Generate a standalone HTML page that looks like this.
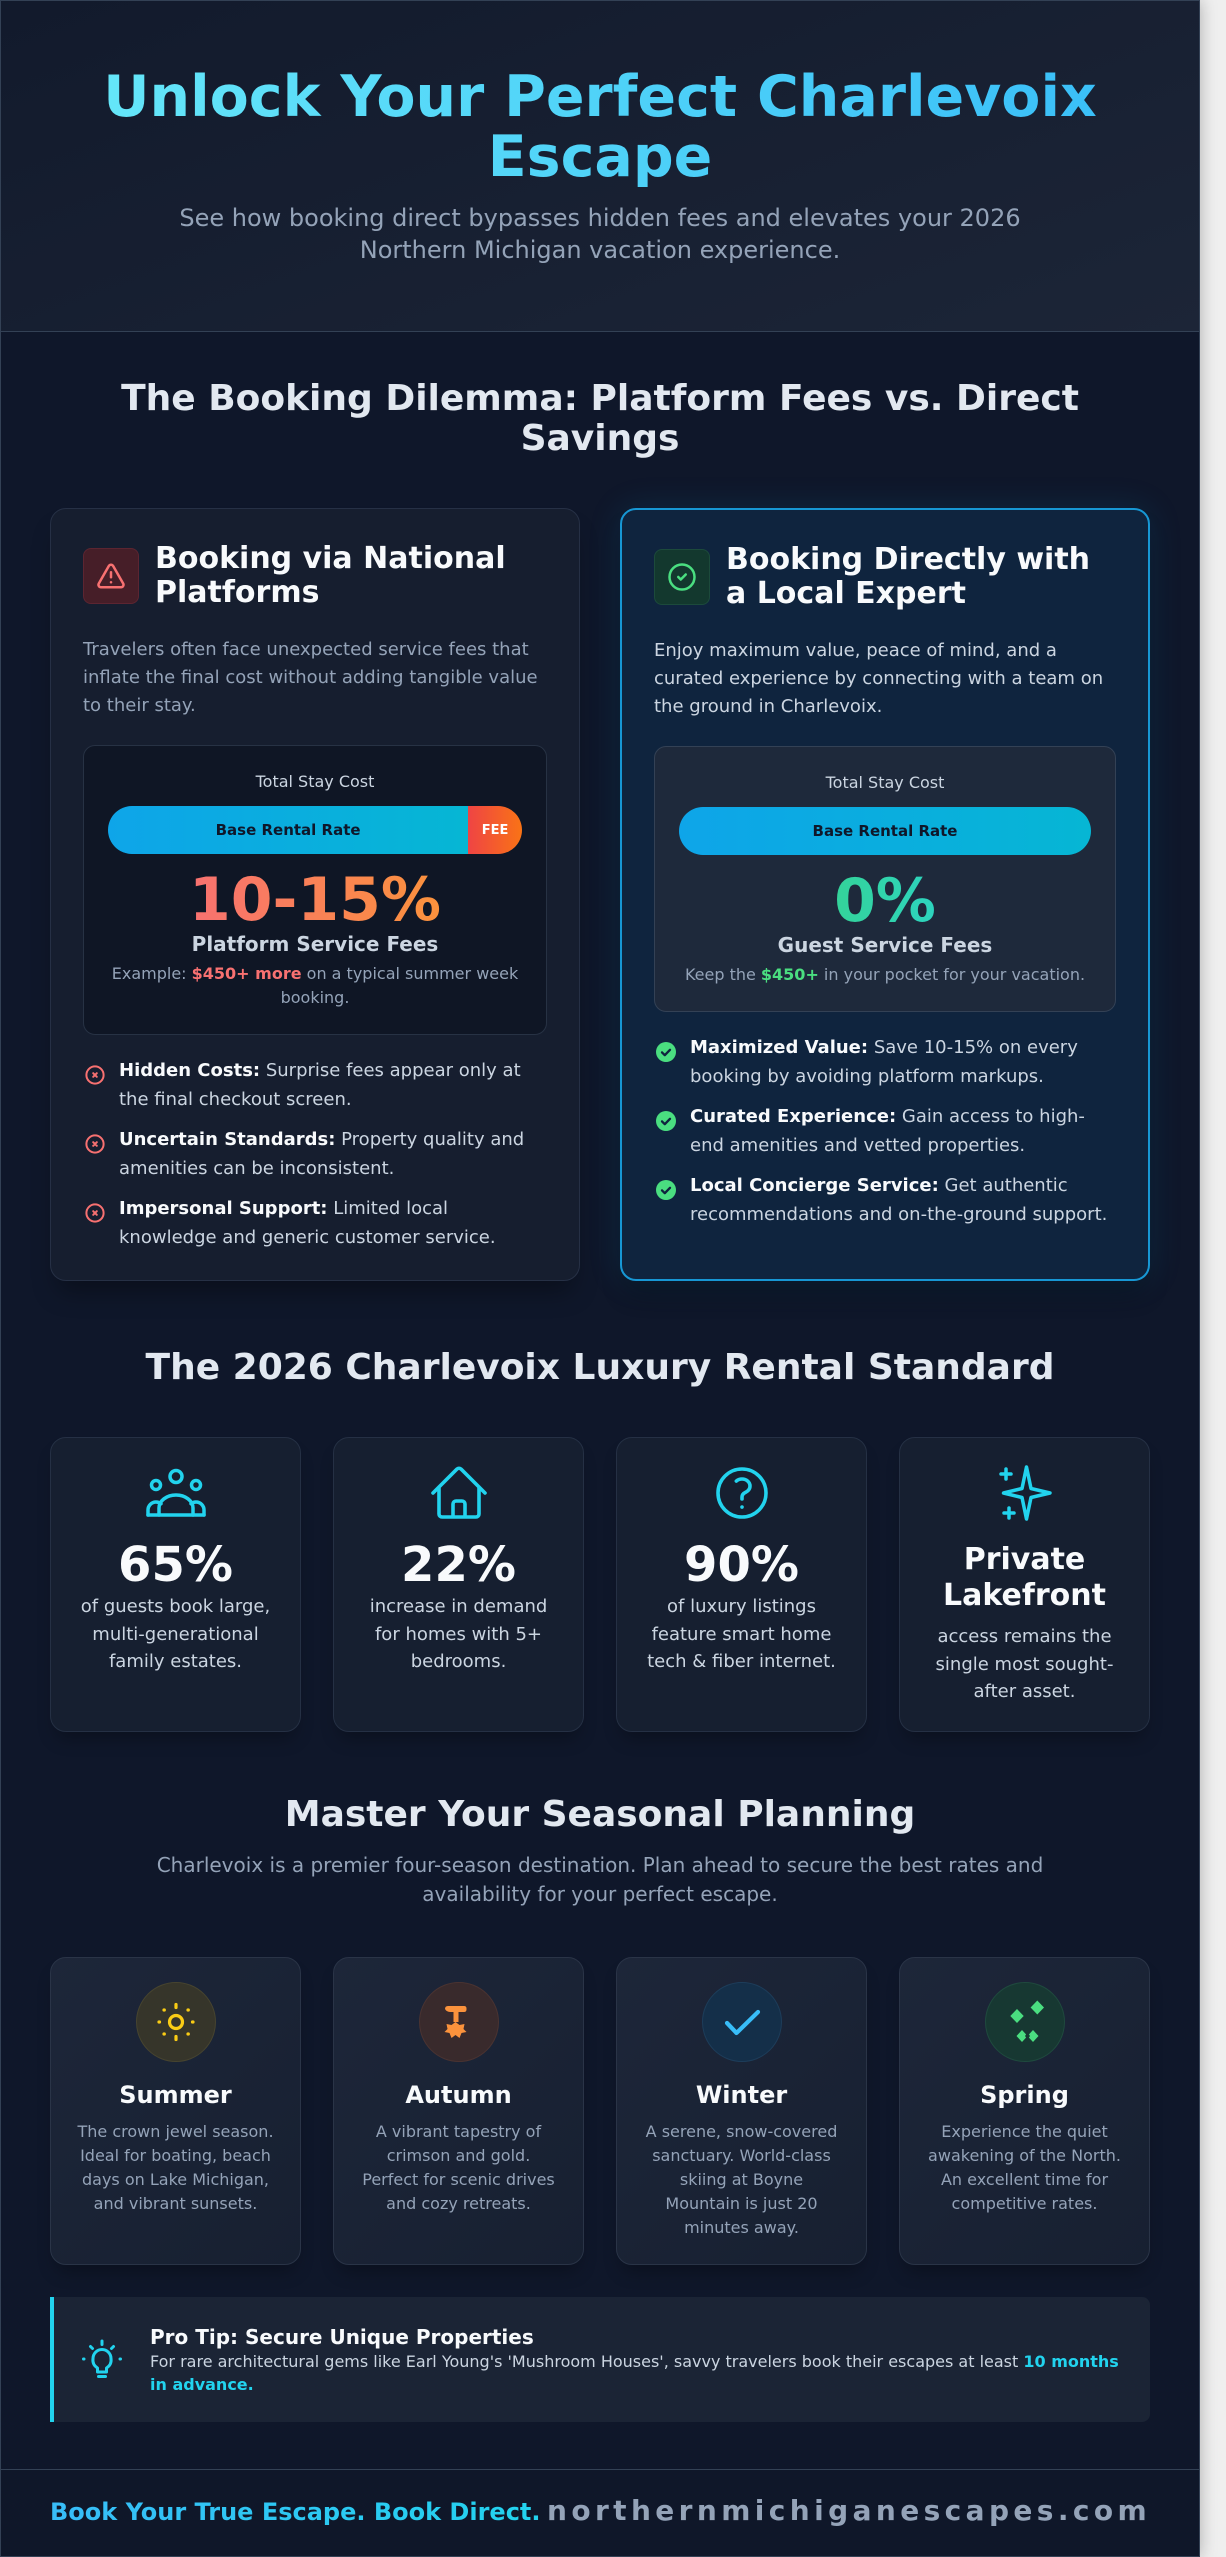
<!DOCTYPE html>
<html><head><meta charset="utf-8">
<style>
*{margin:0;padding:0;box-sizing:border-box}
html,body{width:1226px;height:2557px;overflow:hidden}
body{background:#efefef;font-family:"DejaVu Sans","Liberation Sans",sans-serif;position:relative}
#page{position:absolute;left:0;top:0;width:1200px;height:2557px;background:#0f172a;box-shadow:0 0 16px rgba(0,0,0,0.28)}
#frame{position:absolute;left:0;top:0;width:1200px;height:2557px;border:1px solid #334155;pointer-events:none;z-index:50}
.a{position:absolute}
.h2{position:absolute;left:50px;width:1100px;text-align:center;font-size:36px;line-height:40px;font-weight:bold;color:#e2e8f0}
.title{font-size:57px;line-height:60px;font-weight:bold;text-align:center;background:linear-gradient(90deg,#67e8f9,#38bdf8);-webkit-background-clip:text;background-clip:text;color:transparent}
.card{position:absolute;top:508px;width:530px;height:773px;border-radius:16px;padding:33px 32px 32px}
.cl{left:50px;background:#161e2f;border:1px solid #263045;box-shadow:0 18px 25px -8px rgba(0,0,0,0.35)}
.cr{left:620px;background:#0f243e;border:2px solid #1797d4;padding-top:32px;box-shadow:0 0 34px rgba(14,165,233,0.13),0 18px 25px -8px rgba(0,0,0,0.35)}
.chead{display:flex;align-items:center;height:68px}
.ibox{width:56px;height:56px;flex:none;border-radius:8px;display:flex;align-items:center;justify-content:center;margin-right:16px}
.ctitle{font-size:30px;line-height:34px;font-weight:bold;color:#f8fafc}
.cdesc{margin-top:26px;font-size:18px;line-height:28px}
.cbox{margin-top:25px;border-radius:12px;padding:24px;text-align:center}
.tsc{font-size:16px;line-height:24px;color:#cbd5e1}
.bar{margin-top:12px;height:48px;border-radius:24px;display:flex;overflow:hidden}
.base{width:87%;background:linear-gradient(90deg,#0ea5e9,#06b6d4);font-size:15px;font-weight:bold;color:#0f172a;display:flex;align-items:center;justify-content:center}
.fee{flex:1;background:linear-gradient(90deg,#ef4444,#f97316);color:#fff;font-size:13px;font-weight:bold;display:flex;align-items:center;justify-content:center}
.big{margin-top:16px;font-size:60px;line-height:60px;font-weight:bold;-webkit-background-clip:text;background-clip:text;color:transparent;display:inline-block}
.sub{font-size:20px;line-height:28px;font-weight:bold;color:#cbd5e1}
.ex{margin-top:4px;font-size:16px;line-height:24px;color:#94a3b8}
.clist{margin-top:22px;list-style:none}
.clist li{display:flex;font-size:18px;line-height:28.5px;color:#cbd5e1;margin-bottom:12px}
.clist li svg{flex:none;margin:7.5px 14px 0 2px}
.clist b{color:#f8fafc}
.stat{position:absolute;top:1437px;width:251px;height:295px;background:#161f30;border:1px solid #253044;border-radius:16px;padding:23px 24px 24px;text-align:center;box-shadow:0 12px 18px -6px rgba(0,0,0,0.3)}
.stat svg{display:block;margin:0 auto}
.num{margin-top:16px;font-size:48px;line-height:48px;font-weight:bold;color:#f8fafc}
.sdesc{margin-top:4px;font-size:18px;line-height:27.5px;color:#cbd5e1}
.season{position:absolute;top:1957px;width:251px;height:308px;background:linear-gradient(135deg,#1d2639 0%,#172031 100%);border:1px solid #2a3447;border-radius:16px;padding:24px;text-align:center;box-shadow:0 12px 18px -6px rgba(0,0,0,0.3)}
.circ{width:80px;height:80px;border-radius:50%;margin:0 auto 16px;display:flex;align-items:center;justify-content:center}
.stitle{font-size:24px;line-height:34px;font-weight:bold;color:#f8fafc}
.sd{margin-top:7.5px;font-size:16px;line-height:24px;color:#94a3b8}
</style></head>
<body>
<div id="page">
  <!-- header -->
  <div class="a" style="left:0;top:0;width:1200px;height:331px;background:linear-gradient(160deg,#121a2c 0%,#1c2537 100%)"></div>
  <div class="a" style="left:0;top:331px;width:1200px;height:1px;background:#334155"></div>
  <div class="a title" style="left:50px;top:67px;width:1100px">Unlock Your Perfect Charlevoix Escape</div>
  <div class="a" style="left:152px;top:202px;width:896px;text-align:center;font-size:24px;line-height:32px;color:#94a3b8">See how booking direct bypasses hidden fees and elevates your 2026 Northern Michigan vacation experience.</div>

  <div class="h2" style="top:379px">The Booking Dilemma: Platform Fees vs. Direct Savings</div>

  <!-- left card -->
  <div class="card cl">
    <div class="chead">
      <div class="ibox" style="background:#461e28;border:1px solid #5c2531">
        <svg width="30" height="30" viewBox="0 0 24 24" fill="none" stroke="#f87171" stroke-width="2" stroke-linecap="round" stroke-linejoin="round"><path d="m21.73 18-8-14a2 2 0 0 0-3.48 0l-8 14A2 2 0 0 0 4 21h16a2 2 0 0 0 1.73-3Z"/><path d="M12 9v4"/><path d="M12 17h.01"/></svg>
      </div>
      <div class="ctitle">Booking via National Platforms</div>
    </div>
    <p class="cdesc" style="color:#94a3b8">Travelers often face unexpected service fees that inflate the final cost without adding tangible value to their stay.</p>
    <div class="cbox" style="background:#0f1625;border:1px solid #273244">
      <div class="tsc">Total Stay Cost</div>
      <div class="bar"><div class="base">Base Rental Rate</div><div class="fee">FEE</div></div>
      <div class="big" style="background-image:linear-gradient(90deg,#f87171,#fb923c)">10-15%</div>
      <div class="sub">Platform Service Fees</div>
      <div class="ex">Example: <b style="color:#f87171">$450+ more</b> on a typical summer week booking.</div>
    </div>
    <ul class="clist">
      <li><svg width="20" height="20" viewBox="0 0 20 20"><circle cx="10" cy="10" r="8.6" fill="none" stroke="#f87171" stroke-width="2"/><path d="M8.2 8.2l3.6 3.6M11.8 8.2l-3.6 3.6" stroke="#f87171" stroke-width="2" stroke-linecap="round"/></svg><span><b>Hidden Costs:</b> Surprise fees appear only at the final checkout screen.</span></li>
      <li><svg width="20" height="20" viewBox="0 0 20 20"><circle cx="10" cy="10" r="8.6" fill="none" stroke="#f87171" stroke-width="2"/><path d="M8.2 8.2l3.6 3.6M11.8 8.2l-3.6 3.6" stroke="#f87171" stroke-width="2" stroke-linecap="round"/></svg><span><b>Uncertain Standards:</b> Property quality and amenities can be inconsistent.</span></li>
      <li><svg width="20" height="20" viewBox="0 0 20 20"><circle cx="10" cy="10" r="8.6" fill="none" stroke="#f87171" stroke-width="2"/><path d="M8.2 8.2l3.6 3.6M11.8 8.2l-3.6 3.6" stroke="#f87171" stroke-width="2" stroke-linecap="round"/></svg><span><b>Impersonal Support:</b> Limited local knowledge and generic customer service.</span></li>
    </ul>
  </div>

  <!-- right card -->
  <div class="card cr">
    <div class="chead" style="margin-top:1px">
      <div class="ibox" style="background:#13382e;border:1px solid #1c4a3b">
        <svg width="30" height="30" viewBox="0 0 24 24" fill="none" stroke="#4ade80" stroke-width="2" stroke-linecap="round" stroke-linejoin="round"><circle cx="12" cy="12" r="10"/><path d="m9 12 2 2 4-4"/></svg>
      </div>
      <div class="ctitle">Booking Directly with a Local Expert</div>
    </div>
    <p class="cdesc" style="color:#cbd5e1">Enjoy maximum value, peace of mind, and a curated experience by connecting with a team on the ground in Charlevoix.</p>
    <div class="cbox" style="background:#1e293b;border:1px solid #334155">
      <div class="tsc">Total Stay Cost</div>
      <div class="bar"><div class="base" style="width:100%">Base Rental Rate</div></div>
      <div class="big" style="background-image:linear-gradient(90deg,#34d399,#2dd4bf)">0%</div>
      <div class="sub">Guest Service Fees</div>
      <div class="ex">Keep the <b style="color:#4ade80">$450+</b> in your pocket for your vacation.</div>
    </div>
    <ul class="clist">
      <li><svg width="20" height="20" viewBox="0 0 20 20"><circle cx="10" cy="10" r="10" fill="#4ade80"/><path d="M6 10.4l2.8 2.8L14 7.8" fill="none" stroke="#0f243e" stroke-width="2.3" stroke-linecap="round" stroke-linejoin="round"/></svg><span><b>Maximized Value:</b> Save 10-15% on every booking by avoiding platform markups.</span></li>
      <li><svg width="20" height="20" viewBox="0 0 20 20"><circle cx="10" cy="10" r="10" fill="#4ade80"/><path d="M6 10.4l2.8 2.8L14 7.8" fill="none" stroke="#0f243e" stroke-width="2.3" stroke-linecap="round" stroke-linejoin="round"/></svg><span><b>Curated Experience:</b> Gain access to high-end amenities and vetted properties.</span></li>
      <li><svg width="20" height="20" viewBox="0 0 20 20"><circle cx="10" cy="10" r="10" fill="#4ade80"/><path d="M6 10.4l2.8 2.8L14 7.8" fill="none" stroke="#0f243e" stroke-width="2.3" stroke-linecap="round" stroke-linejoin="round"/></svg><span><b>Local Concierge Service:</b> Get authentic recommendations and on-the-ground support.</span></li>
    </ul>
  </div>

  <div class="h2" style="top:1348px">The 2026 Charlevoix Luxury Rental Standard</div>

  <div class="stat" style="left:50px">
    <svg width="64" height="64" viewBox="0 0 64 64" fill="none" stroke="#22d3ee" stroke-width="3.5" stroke-linecap="round" stroke-linejoin="round"><circle cx="32" cy="15.5" r="6"/><circle cx="12" cy="24" r="4.5"/><circle cx="52" cy="24" r="4.5"/><path d="M15 54V47a17 13 0 0 1 34 0v7"/><path d="M4 54v-5a8 8 0 0 1 8-8a8 8 0 0 1 5 1.8"/><path d="M60 54v-5a8 8 0 0 0-8-8a8 8 0 0 0-5 1.8"/><path d="M4 54H60"/></svg>
    <div class="num">65%</div>
    <div class="sdesc">of guests book large, multi-generational family estates.</div>
  </div>
  <div class="stat" style="left:333px">
    <svg width="64" height="64" viewBox="0 0 24 24" fill="none" stroke="#22d3ee" stroke-width="1.35" stroke-linecap="round" stroke-linejoin="round"><path d="m2.25 12 8.954-8.955c.44-.439 1.152-.439 1.591 0L21.75 12M4.5 9.75v10.125c0 .621.504 1.125 1.125 1.125H9.75v-4.875c0-.621.504-1.125 1.125-1.125h2.25c.621 0 1.125.504 1.125 1.125V21h4.125c.621 0 1.125-.504 1.125-1.125V9.75M8.25 21h8.25"/></svg>
    <div class="num">22%</div>
    <div class="sdesc">increase in demand for homes with 5+ bedrooms.</div>
  </div>
  <div class="stat" style="left:616px">
    <svg width="64" height="64" viewBox="0 0 24 24" fill="none" stroke="#22d3ee" stroke-width="1.35" stroke-linecap="round" stroke-linejoin="round"><path d="M9.879 7.519c1.171-1.025 3.071-1.025 4.242 0 1.172 1.025 1.172 2.687 0 3.712-.203.179-.43.326-.67.442-.745.361-1.450.999-1.450 1.827v.75M21 12a9 9 0 1 1-18 0 9 9 0 0 1 18 0Zm-9 5.250h.008v.008H12v-.008Z"/></svg>
    <div class="num">90%</div>
    <div class="sdesc">of luxury listings feature smart home tech &amp; fiber internet.</div>
  </div>
  <div class="stat" style="left:899px">
    <svg width="64" height="64" viewBox="0 0 64 64" fill="none" stroke="#22d3ee" stroke-width="3.5" stroke-linecap="round" stroke-linejoin="round"><path d="M33.5 6L38 27.5L57 32L38 36.5L33.5 58L29 36.5L10.5 32L29 27.5Z"/><path d="M13 8v10M8 13h10"/><path d="M16 47v10M11 52h10"/></svg>
    <div style="margin-top:16.5px;font-size:30px;line-height:36px;font-weight:bold;color:#f8fafc">Private Lakefront</div>
    <div class="sdesc" style="margin-top:9.5px">access remains the single most sought-after asset.</div>
  </div>

  <div class="h2" style="top:1795px">Master Your Seasonal Planning</div>
  <div class="a" style="left:152px;top:1851px;width:896px;text-align:center;font-size:20px;line-height:29px;color:#94a3b8">Charlevoix is a premier four-season destination. Plan ahead to secure the best rates and availability for your perfect escape.</div>

  <div class="season" style="left:50px">
    <div class="circ" style="background:#36352a;border:1px solid #47442f">
      <svg width="40" height="40" viewBox="0 0 40 40" fill="none" stroke="#facc15" stroke-width="3.2" stroke-linecap="round"><circle cx="20" cy="20" r="6.5"/><path d="M20 2.5v3M20 34.5v3M3 20h.5M36.5 20h.5M8 8h.3M32 8h.3M8 32h.3M32 32h.3"/></svg>
    </div>
    <div class="stitle">Summer</div>
    <div class="sd">The crown jewel season. Ideal for boating, beach days on Lake Michigan, and vibrant sunsets.</div>
  </div>
  <div class="season" style="left:333px">
    <div class="circ" style="background:#392a2c;border:1px solid #4a3331">
      <svg width="40" height="40" viewBox="0 0 40 40" fill="#fb923c"><path d="M6 7q0-3 3-3h16q2.5 0 2.5 2.5v1q0 2.5-2.5 2.5h-5.5v10h-5v-10h-2.5q-4.5 0-6-3z"/><path d="M16.5 20l4 3 5-1-1 5 3 3-5 1-2 5-4-3-4 3-2-5-5-1 3-3-1-5 5 1z"/></svg>
    </div>
    <div class="stitle">Autumn</div>
    <div class="sd">A vibrant tapestry of crimson and gold. Perfect for scenic drives and cozy retreats.</div>
  </div>
  <div class="season" style="left:616px">
    <div class="circ" style="background:#142f49;border:1px solid #1d3d5a">
      <svg width="40" height="40" viewBox="0 0 40 40" fill="none" stroke="#38bdf8" stroke-width="4.2" stroke-linecap="round" stroke-linejoin="round"><path d="M5 21L14.5 31L36 10"/></svg>
    </div>
    <div class="stitle">Winter</div>
    <div class="sd">A serene, snow-covered sanctuary. World-class skiing at Boyne Mountain is just 20 minutes away.</div>
  </div>
  <div class="season" style="left:899px">
    <div class="circ" style="background:#173832;border:1px solid #1f4a3e">
      <svg width="40" height="40" viewBox="0 0 40 40" style="overflow:visible" fill="#4ade80"><path d="M32.3 -1.5L39 5.5L32.3 12.5L25.6 5.5Z"/><path d="M12 7L18.7 14L12 21L5.3 14Z"/><path d="M17 28L22.5 34L17 40L11.5 34Z"/><path d="M28 28L33.5 34L28 40L22.5 34Z"/><path d="M22.5 30.5L25 34L22.5 37.5L20 34Z" fill="#173832"/></svg>
    </div>
    <div class="stitle">Spring</div>
    <div class="sd">Experience the quiet awakening of the North. An excellent time for competitive rates.</div>
  </div>

  <!-- pro tip -->
  <div class="a" style="left:50px;top:2297px;width:1100px;height:125px;background:#1b2435;border-left:4px solid #22d3ee;border-radius:0 8px 8px 0;display:flex;align-items:center;padding:0 24px">
    <svg width="48" height="48" viewBox="0 0 48 48" fill="none" stroke="#22d3ee" stroke-width="3" stroke-linecap="round" stroke-linejoin="round" style="flex:none;margin-right:24px"><path d="M19.5 32C15.5 29.5 14.5 26 15 22.5A9 9 0 0 1 33 22.5C33.5 26 32.5 29.5 28.5 32V36H19.5Z"/><path d="M20.5 40.5H27.5"/><path d="M24 5v3.5M12.5 10.5l2 2M35.5 10.5l-2 2M5.5 23h.5M42 23h.5"/></svg>
    <div>
      <div style="font-size:20px;line-height:26px;font-weight:bold;color:#f8fafc">Pro Tip: Secure Unique Properties</div>
      <div style="font-size:16px;line-height:23px;color:#cbd5e1">For rare architectural gems like Earl Young's 'Mushroom Houses', savvy travelers book their escapes at least <b style="color:#22d3ee">10 months in advance.</b></div>
    </div>
  </div>

  <!-- footer -->
  <div class="a" style="left:0;top:2469px;width:1200px;height:1px;background:#334155"></div>
  <div class="a" style="left:0;top:2470px;width:1200px;height:87px;background:#0f1729"></div>
  <div class="a" style="left:50px;top:2496px;font-size:24px;line-height:32px;font-weight:bold;white-space:nowrap;background:linear-gradient(90deg,#38bdf8,#22d3ee);-webkit-background-clip:text;background-clip:text;color:transparent">Book Your True Escape. Book Direct.</div>
  <div class="a" style="left:547px;top:2495px;font-size:28px;line-height:32px;font-weight:bold;white-space:nowrap;letter-spacing:4.4px;color:#94a3b8">northernmichiganescapes.com</div>
</div>
<div id="frame"></div>
</body></html>
